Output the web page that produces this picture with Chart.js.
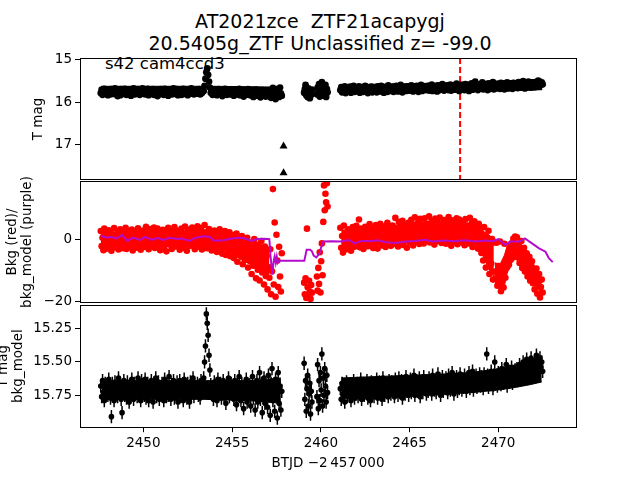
<!DOCTYPE html>
<html>
<head>
<meta charset="utf-8">
<script src="https://cdn.jsdelivr.net/npm/chart.js@4.4.1/dist/chart.umd.min.js"></script>
<style>
  body { margin: 0; width: 640px; height: 480px; background: #fff; position: relative; overflow: hidden; font-family: "DejaVu Sans", sans-serif; }
  canvas { position: absolute; }
  #title { position: absolute; left: 0; top: 10px; width: 640px; text-align: center; font-size: 19px; line-height: 22px; white-space: pre; color: #000; }
  #sector { position: absolute; left: 105px; top: 56px; font-size: 16.5px; line-height: 1; color: #000; }
</style>
</head>
<body>
<div id="title">AT2021zce  ZTF21acapygj
20.5405g_ZTF Unclassified z= -99.0</div>
<div id="sector">s42 cam4ccd3</div>
<canvas id="lc" width="555" height="144" style="left:31px;top:47px"></canvas>
<canvas id="bkg" width="581" height="144" style="left:5px;top:170px"></canvas>
<canvas id="diff" width="590" height="186" style="left:-4px;top:294px"></canvas>
<script>
// BTJD - 2457000 of each cadence (one row per day)
const btjd = [
  2447.6,2447.65,2447.7,2447.75,2447.8,2447.85,2447.9,2447.95,
  2448,2448.05,2448.1,2448.15,2448.2,2448.25,2448.3,2448.35,2448.4,2448.45,2448.5,2448.55,2448.6,2448.65,2448.7,2448.75,2448.8,2448.85,2448.9,2448.95,
  2449,2449.05,2449.1,2449.15,2449.2,2449.25,2449.3,2449.35,2449.4,2449.45,2449.5,2449.55,2449.6,2449.65,2449.7,2449.75,2449.8,2449.85,2449.9,2449.95,
  2450,2450.05,2450.1,2450.15,2450.2,2450.25,2450.3,2450.35,2450.4,2450.45,2450.5,2450.55,2450.6,2450.65,2450.7,2450.75,2450.8,2450.85,2450.9,2450.95,
  2451,2451.05,2451.1,2451.15,2451.2,2451.25,2451.3,2451.35,2451.4,2451.45,2451.5,2451.55,2451.6,2451.65,2451.7,2451.75,2451.8,2451.85,2451.9,2451.95,
  2452,2452.05,2452.1,2452.15,2452.2,2452.25,2452.3,2452.35,2452.4,2452.45,2452.5,2452.55,2452.6,2452.65,2452.7,2452.75,2452.8,2452.85,2452.9,2452.95,
  2453,2453.05,2453.1,2453.15,2453.2,2453.25,2453.3,2453.35,2453.4,2453.45,2453.5,2453.55,2453.6,2453.65,2453.7,2453.75,2453.8,2453.85,2453.9,2453.95,
  2454,2454.05,2454.1,2454.15,2454.2,2454.25,2454.3,2454.35,2454.4,2454.45,2454.5,2454.55,2454.6,2454.65,2454.7,2454.75,2454.8,2454.85,2454.9,2454.95,
  2455,2455.05,2455.1,2455.15,2455.2,2455.25,2455.3,2455.35,2455.4,2455.45,2455.5,2455.55,2455.6,2455.65,2455.7,2455.75,2455.8,2455.85,2455.9,2455.95,
  2456,2456.05,2456.1,2456.15,2456.2,2456.25,2456.3,2456.35,2456.4,2456.45,2456.5,2456.55,2456.6,2456.65,2456.7,2456.75,2456.8,2456.85,2456.9,2456.95,
  2457,2457.05,2457.1,2457.15,2457.2,2457.25,2457.3,2457.35,2457.4,2457.45,2457.5,2457.55,2457.6,2457.65,2457.7,2457.75,2457.8,
  2459.06,2459.1,2459.14,2459.18,2459.22,2459.26,2459.3,2459.34,2459.38,2459.42,2459.46,2459.5,
  2459.78,2459.82,2459.86,2459.9,2459.94,2459.98,2460.02,2460.06,2460.1,2460.14,2460.18,2460.22,2460.26,2460.3,2460.34,2460.38,
  2461.1,2461.15,2461.2,2461.25,2461.3,2461.35,2461.4,2461.45,2461.5,2461.55,2461.6,2461.65,2461.7,2461.75,2461.8,2461.85,2461.9,2461.95,
  2462,2462.05,2462.1,2462.15,2462.2,2462.25,2462.3,2462.35,2462.4,2462.45,2462.5,2462.55,2462.6,2462.65,2462.7,2462.75,2462.8,2462.85,2462.9,2462.95,
  2463,2463.05,2463.1,2463.15,2463.2,2463.25,2463.3,2463.35,2463.4,2463.45,2463.5,2463.55,2463.6,2463.65,2463.7,2463.75,2463.8,2463.85,2463.9,2463.95,
  2464,2464.05,2464.1,2464.15,2464.2,2464.25,2464.3,2464.35,2464.4,2464.45,2464.5,2464.55,2464.6,2464.65,2464.7,2464.75,2464.8,2464.85,2464.9,2464.95,
  2465,2465.05,2465.1,2465.15,2465.2,2465.25,2465.3,2465.35,2465.4,2465.45,2465.5,2465.55,2465.6,2465.65,2465.7,2465.75,2465.8,2465.85,2465.9,2465.95,
  2466,2466.05,2466.1,2466.15,2466.2,2466.25,2466.3,2466.35,2466.4,2466.45,2466.5,2466.55,2466.6,2466.65,2466.7,2466.75,2466.8,2466.85,2466.9,2466.95,
  2467,2467.05,2467.1,2467.15,2467.2,2467.25,2467.3,2467.35,2467.4,2467.45,2467.5,2467.55,2467.6,2467.65,2467.7,2467.75,2467.8,2467.85,2467.9,2467.95,
  2468,2468.05,2468.1,2468.15,2468.2,2468.25,2468.3,2468.35,2468.4,2468.45,2468.5,2468.55,2468.6,2468.65,2468.7,2468.75,2468.8,2468.85,2468.9,2468.95,
  2469,2469.05,2469.1,2469.15,2469.2,2469.25,2469.3,2469.35,2469.4,2469.45,2469.5,2469.55,2469.6,2469.65,2469.7,2469.75,2469.8,2469.85,2469.9,2469.95,
  2470,2470.05,2470.1,2470.15,2470.2,2470.25,2470.3,2470.35,2470.4,2470.45,2470.5,2470.55,2470.6,2470.65,2470.7,2470.75,2470.8,2470.85,2470.9,2470.95,
  2471,2471.05,2471.1,2471.15,2471.2,2471.25,2471.3,2471.35,2471.4,2471.45,2471.5,2471.55,2471.6,2471.65,2471.7,2471.75,2471.8,2471.85,2471.9,2471.95,
  2472,2472.05,2472.1,2472.15,2472.2,2472.25,2472.3,2472.35,2472.4,2472.45,2472.5
];

// top panel: T mag
const tMag = [
  15.79,15.71,15.83,15.75,15.69,15.80,15.76,15.72,
  15.84,15.73,15.77,15.82,15.70,15.78,15.74,15.81,15.68,15.79,15.75,15.86,15.72,15.78,15.84,15.70,15.77,15.74,15.81,15.69,
  15.79,15.83,15.73,15.76,15.80,15.71,15.85,15.75,15.78,15.68,15.82,15.74,15.81,15.75,15.70,15.79,15.83,15.72,15.77,15.68,
  15.80,15.76,15.82,15.73,15.78,15.69,15.84,15.74,15.71,15.79,15.77,15.70,15.83,15.75,15.80,15.72,15.86,15.76,15.73,15.81,
  15.70,15.78,15.74,15.83,15.69,15.80,15.76,15.72,15.85,15.75,15.79,15.71,15.82,15.77,15.68,15.81,15.74,15.78,15.70,15.84,
  15.75,15.79,15.72,15.83,15.77,15.69,15.81,15.74,15.78,15.71,15.84,15.76,15.80,15.73,15.68,15.79,15.75,15.82,15.72,15.77,
  15.80,15.73,15.77,15.70,15.82,15.75,15.79,15.71,15.74,15.62,15.45,15.30,15.21,15.36,15.52,15.66,15.78,15.72,15.83,15.76,
  15.71,15.79,15.74,15.84,15.76,15.70,15.81,15.77,15.73,15.86,15.75,15.80,15.69,15.78,15.83,15.72,15.79,15.75,15.82,15.74,
  15.78,15.71,15.85,15.76,15.80,15.73,15.82,15.77,15.69,15.84,15.75,15.79,15.72,15.87,15.76,15.81,15.74,15.78,15.70,15.83,
  15.77,15.84,15.73,15.80,15.88,15.75,15.79,15.71,15.85,15.77,15.82,15.74,15.89,15.78,15.72,15.84,15.80,15.76,15.87,15.73,
  15.81,15.76,15.86,15.72,15.90,15.79,15.67,15.84,15.75,15.93,15.70,15.82,15.77,15.88,15.66,15.80,15.85,
  15.78,15.70,15.60,15.84,15.73,15.88,15.68,15.80,15.91,15.75,15.83,15.71,
  15.82,15.66,15.76,15.58,15.87,15.70,15.79,15.53,15.85,15.64,15.74,15.81,15.60,15.88,15.69,15.77,
  15.72,15.65,15.77,15.68,15.74,15.63,15.79,15.70,15.66,15.75,15.71,15.64,15.78,15.69,15.73,15.62,15.76,15.70,
  15.67,15.74,15.70,15.63,15.78,15.69,15.72,15.65,15.76,15.71,15.62,15.75,15.68,15.79,15.66,15.73,15.70,15.64,15.77,15.69,
  15.74,15.66,15.71,15.77,15.63,15.70,15.75,15.68,15.62,15.73,15.69,15.78,15.65,15.72,15.67,15.76,15.61,15.70,15.74,15.66,
  15.71,15.64,15.76,15.69,15.73,15.62,15.68,15.75,15.66,15.72,15.60,15.70,15.77,15.65,15.71,15.67,15.74,15.63,15.69,15.73,
  15.66,15.72,15.61,15.70,15.75,15.64,15.68,15.73,15.62,15.69,15.76,15.65,15.71,15.60,15.74,15.67,15.70,15.63,15.72,15.66,
  15.69,15.62,15.73,15.66,15.70,15.59,15.74,15.67,15.63,15.71,15.65,15.75,15.61,15.68,15.72,15.64,15.70,15.58,15.67,15.73,
  15.64,15.70,15.66,15.61,15.72,15.68,15.59,15.73,15.65,15.69,15.62,15.71,15.67,15.57,15.70,15.64,15.74,15.63,15.68,15.60,
  15.69,15.62,15.72,15.58,15.66,15.70,15.63,15.74,15.60,15.67,15.56,15.71,15.64,15.68,15.52,15.66,15.61,15.72,15.65,15.59,
  15.68,15.62,15.54,15.70,15.64,15.58,15.67,15.61,15.72,15.56,15.65,15.69,15.60,15.66,15.53,15.70,15.63,15.58,15.67,15.61,
  15.65,15.59,15.69,15.55,15.63,15.67,15.57,15.70,15.61,15.64,15.54,15.68,15.60,15.66,15.58,15.62,15.69,15.55,15.64,15.60,
  15.63,15.57,15.67,15.53,15.61,15.66,15.58,15.64,15.51,15.62,15.68,15.56,15.60,15.65,15.52,15.63,15.58,15.66,15.54,15.61,
  15.59,15.65,15.53,15.62,15.57,15.50,15.63,15.56,15.60,15.54,15.58
];

// middle panel: background flux (red)
const bkg = [
  2.8,-2.1,0.6,-3.4,3.6,-0.8,1.9,-2.9,
  0.2,3.1,-1.6,2.4,-3.6,1.1,-0.4,3.8,-2.5,0.9,-1.2,2.6,-3.2,1.5,3.4,-1.9,0.3,-2.8,2.1,-0.6,
  3.9,-3.0,1.2,-1.4,2.9,-2.3,0.7,3.3,-3.5,1.8,-0.9,2.5,-2.6,0.4,3.7,-1.7,1.4,-3.3,2.2,-0.2,
  3.0,-2.4,1.0,4.2,-1.5,2.7,-3.1,0.8,3.5,-2.0,1.6,-0.7,4.0,-2.7,2.3,0.1,3.6,-1.8,2.0,-3.4,
  1.3,-0.5,3.2,-2.9,0.6,2.4,-3.8,1.1,3.9,-1.3,0.2,2.8,-3.0,1.7,-0.8,4.1,-2.2,0.9,3.0,-1.6,
  2.2,-3.3,0.5,3.6,-1.1,1.9,-2.7,4.3,0.0,-3.6,2.6,-0.3,3.3,-2.0,1.4,4.0,-1.4,0.7,-3.1,2.9,
  0.3,4.4,-2.3,1.6,-0.9,3.8,-3.2,2.1,0.8,4.8,-1.7,2.5,-2.8,0.4,3.5,-1.0,1.8,-3.5,2.7,-0.4,
  3.0,-2.5,0.9,-4.0,2.2,-1.2,3.4,-3.1,0.3,-4.6,1.7,-0.6,2.8,-5.0,-1.8,1.2,-3.7,2.4,-5.4,0.1,
  -2.6,1.5,-6.0,-0.8,-3.9,2.0,-7.2,-1.6,0.9,-5.1,-2.9,1.2,-8.0,-4.2,-0.3,-6.6,-2.1,0.6,-9.1,-3.6,
  -0.9,-6.9,-11.2,-2.7,-8.5,0.2,-4.8,-12.6,-1.6,-9.8,-6.0,-13.3,-3.4,-0.4,-10.7,-7.6,-14.6,-2.2,-11.8,-5.3,
  -16.2,-8.9,-12.4,-3.1,-17.8,-10.3,16.5,-14.6,5.6,-18.6,1.6,-6.8,-15.4,-2.3,-12.0,-16.9,-4.4,
  -14.0,-17.8,-12.6,-19.0,3.6,-15.5,-18.2,-13.4,-16.9,-19.3,-14.8,-17.3,
  -12.0,-16.6,-9.2,-14.4,-4.1,-17.2,-7.0,-1.2,-11.6,5.8,17.7,9.6,15.0,12.2,18.4,10.8,
  3.9,-2.6,1.2,-4.2,4.6,-0.9,2.3,-3.1,0.5,3.4,-1.8,2.7,-3.6,1.0,4.1,-0.4,-2.3,2.0,
  4.5,-1.2,0.8,6.6,-2.5,3.6,-0.1,2.6,-3.0,1.5,4.2,-0.8,3.0,-2.1,1.9,5.1,-1.4,3.8,0.4,-2.7,
  2.4,-1.6,4.8,0.9,-2.9,3.5,-0.3,5.2,1.6,-1.9,3.1,-0.6,4.4,-2.4,2.0,5.5,-1.1,1.3,3.9,-2.0,
  0.7,4.6,-1.4,3.0,7.1,-0.2,2.3,-2.2,5.8,1.1,-1.0,3.7,6.2,-1.7,2.6,4.9,0.0,-2.6,3.3,5.6,
  -0.8,2.9,6.5,0.4,-1.9,4.3,7.3,1.7,-0.5,5.4,2.2,-1.4,6.8,3.5,0.6,4.7,-1.2,7.0,2.5,-0.2,
  5.0,1.2,7.6,-0.9,3.8,6.1,0.3,4.4,-1.6,6.9,2.7,-0.4,5.5,1.5,7.2,3.1,-1.1,4.9,0.8,6.4,
  2.0,-1.3,5.7,3.4,7.4,0.1,4.5,-2.0,6.3,1.9,-0.7,5.1,2.8,7.0,-1.5,3.9,6.6,0.6,4.2,-0.9,
  5.9,2.3,-1.8,6.7,1.0,4.6,-1.2,3.2,7.1,0.4,5.3,-2.4,2.6,6.0,-0.6,4.0,1.4,-2.9,5.2,0.9,
  3.6,-4.3,1.8,-6.8,4.1,-2.0,-9.1,0.7,-5.4,2.9,-11.2,-1.4,-7.8,0.2,-13.0,-0.9,-10.4,-12.6,-1.0,-15.0,
  -8.6,-13.8,-0.6,-16.8,-11.0,-9.2,-15.6,-1.3,-12.4,-7.6,-9.0,-5.0,-8.2,-3.0,-6.4,-1.2,-5.6,0.4,-3.4,1.0,
  -2.2,0.8,-5.8,-1.4,-7.6,-3.9,-0.4,-9.2,-5.0,-2.6,-10.4,-6.6,-4.4,-12.0,-8.2,-5.6,-13.4,-9.8,-7.0,-14.2,
  -10.6,-16.2,-12.8,-9.4,-17.6,-14.0,-11.2,-18.8,-15.4,-13.0,-17.2
];

// bottom panel: T mag with the background model
const tMagModel = [
  15.68,15.76,15.64,15.73,15.79,15.66,15.74,15.70,
  15.75,15.63,15.70,15.77,15.91,15.66,15.72,15.79,15.65,15.74,15.69,15.76,15.62,15.73,15.68,15.78,15.88,15.71,15.64,15.75,
  15.70,15.77,15.65,15.72,15.80,15.67,15.74,15.63,15.71,15.78,15.66,15.73,15.69,15.76,15.62,15.75,15.70,15.79,15.64,15.72,
  15.68,15.75,15.63,15.77,15.71,15.66,15.79,15.69,15.74,15.64,15.72,15.80,15.67,15.73,15.62,15.76,15.70,15.65,15.78,15.71,
  15.74,15.66,15.72,15.79,15.63,15.70,15.76,15.68,15.75,15.61,15.73,15.78,15.67,15.71,15.64,15.77,15.69,15.74,15.65,15.80,
  15.70,15.64,15.76,15.71,15.67,15.79,15.63,15.73,15.69,15.77,15.66,15.72,15.80,15.65,15.74,15.70,15.62,15.76,15.68,15.73,
  15.71,15.66,15.75,15.69,15.77,15.64,15.73,15.68,15.62,15.50,15.38,15.14,15.21,15.30,15.45,15.56,15.67,15.74,15.70,15.78,
  15.65,15.72,15.68,15.79,15.63,15.74,15.70,15.66,15.77,15.71,15.64,15.75,15.69,15.81,15.67,15.73,15.62,15.76,15.70,15.66,
  15.74,15.69,15.78,15.64,15.72,15.82,15.67,15.75,15.61,15.71,15.79,15.66,15.73,15.85,15.68,15.76,15.63,15.80,15.70,15.74,
  15.67,15.83,15.72,15.61,15.77,15.69,15.86,15.74,15.64,15.80,15.70,15.58,15.78,15.66,15.88,15.73,15.62,15.81,15.69,15.76,
  15.84,15.60,15.75,15.90,15.66,15.55,15.79,15.70,15.87,15.63,15.74,15.92,15.58,15.81,15.68,15.86,15.72,
  15.51,15.78,15.64,15.87,15.70,15.60,15.83,15.74,15.66,15.89,15.72,15.80,
  15.76,15.52,15.85,15.64,15.79,15.58,15.71,15.44,15.83,15.62,15.75,15.55,15.68,15.80,15.60,15.73,
  15.70,15.78,15.66,15.74,15.69,15.80,15.72,15.65,15.76,15.71,15.67,15.75,15.79,15.68,15.73,15.64,15.77,15.70,
  15.74,15.66,15.76,15.69,15.72,15.63,15.78,15.70,15.66,15.75,15.68,15.73,15.64,15.77,15.71,15.67,15.79,15.65,15.72,15.69,
  15.76,15.68,15.72,15.63,15.77,15.70,15.65,15.74,15.69,15.78,15.62,15.71,15.75,15.66,15.73,15.68,15.76,15.64,15.70,15.74,
  15.65,15.72,15.68,15.76,15.63,15.71,15.67,15.75,15.62,15.73,15.69,15.64,15.77,15.70,15.66,15.74,15.61,15.72,15.68,15.75,
  15.69,15.63,15.73,15.66,15.71,15.60,15.75,15.67,15.64,15.72,15.68,15.62,15.76,15.65,15.70,15.73,15.61,15.69,15.66,15.74,
  15.67,15.72,15.62,15.70,15.65,15.74,15.60,15.68,15.71,15.64,15.73,15.66,15.59,15.70,15.63,15.75,15.67,15.61,15.72,15.65,
  15.70,15.62,15.68,15.73,15.60,15.66,15.71,15.64,15.58,15.69,15.74,15.63,15.67,15.61,15.72,15.65,15.70,15.59,15.66,15.71,
  15.63,15.69,15.60,15.67,15.72,15.62,15.66,15.58,15.70,15.64,15.68,15.57,15.71,15.63,15.66,15.60,15.69,15.62,15.67,15.59,
  15.68,15.61,15.65,15.70,15.59,15.66,15.63,15.44,15.60,15.69,15.62,15.67,15.57,15.64,15.70,15.60,15.50,15.65,15.61,15.68,
  15.58,15.64,15.60,15.67,15.55,15.62,15.66,15.59,15.63,15.52,15.68,15.60,15.57,15.65,15.61,15.54,15.66,15.58,15.63,15.56,
  15.61,15.55,15.64,15.58,15.52,15.62,15.57,15.60,15.50,15.63,15.55,15.59,15.48,15.61,15.56,15.53,15.60,15.47,15.57,15.52,
  15.58,15.49,15.55,15.45,15.60,15.52,15.56,15.47,15.54,15.50,15.57
];
const tMagErr = 0.03;
const tMagModelErr = 0.05;

// extent of the densest part of each cloud (null = gap in the coverage)
const magBandTime = [2447.62,2450.0,2453.35, 2453.4, 2453.8,2456.0,2457.78, 2459.0, 2461.12,2464.0,2467.0,2469.0,2471.0,2472.48];
const magBandBright = [15.63,15.63,15.63, null, 15.63,15.64,15.65, null, 15.59,15.58,15.55,15.52,15.49,15.46];
const magBandFaint = [15.87,15.87,15.87, null, 15.87,15.88,15.89, null, 15.80,15.79,15.77,15.75,15.73,15.71];

const bkgBandTime = [
  2447.6,2449.0,2450.5,2452.0,2453.5,2454.5,2455.0,2455.5,2456.0,2456.5,2457.0,2457.1,
  2459.0,
  2461.15,2462.0,2463.0,2464.0,2465.0,2466.0,2467.0,2468.0,2468.8,2469.2,2469.5,2469.75,
  2469.77,
  2469.8,2470.1,2470.35,2470.5,2470.7,2471.0,2471.3,2471.6,2471.9,2472.2,2472.45
];
const bkgBandHi = [
  2.5,2.5,2.8,2.8,3.0,2.0,1.5,0.8,-0.5,-1.0,-3.0,-3.0,
  null,
  3.0,3.5,3.8,4.5,5.5,6.0,6.0,5.5,5.0,2.5,1.5,0.0,
  null,
  -7.5,-8.0,-5.0,-2.0,-0.5,0.0,-1.5,-4.0,-7.0,-10.0,-12.5
];
const bkgBandLo = [
  -2.5,-2.5,-2.4,-2.4,-2.5,-3.5,-4.5,-6.5,-8.0,-10.0,-12.0,-12.0,
  null,
  -2.5,-2.0,-1.8,-1.5,-1.0,-0.8,-1.0,-1.5,-2.0,-6.0,-10.0,-12.0,
  null,
  -15.0,-16.0,-15.0,-11.0,-8.0,-6.0,-8.5,-11.0,-13.5,-16.0,-17.5
];

const modBandTime = [2447.65,2453.35,2456.0,2457.75, 2459.0, 2461.15,2463.0,2465.0,2467.0,2468.5,2470.0,2471.0,2471.8,2472.45];
const modBandBright = [15.64,15.64,15.64,15.62, null, 15.62,15.61,15.60,15.59,15.58,15.55,15.52,15.48,15.46];
const modBandFaint = [15.78,15.78,15.79,15.81, null, 15.77,15.76,15.75,15.74,15.73,15.71,15.69,15.67,15.65];

// background model (purple)
const modelTime = [
  2447.6,2447.9,2448.2,2448.5,2448.8,2449.1,2449.4,2449.8,2450.1,2450.5,
  2450.8,2451.1,2451.5,2451.9,2452.2,2452.6,2452.9,2453.4,2453.75,2453.97,
  2454.5,2455.06,2455.5,2455.8,2456.1,2456.4,2456.8,2457.1,2457.16,2457.27,
  2457.34,2457.4,2457.46,2457.52,2457.58,2457.64,2457.7,2459.07,2459.2,2459.4,
  2459.5,2459.6,2459.75,2459.93,2460.0,2460.15,2460.6,2461.1,2461.6,2461.9,
  2462.3,2462.9,2463.2,2463.7,2464.2,2464.8,2465.3,2465.9,2466.3,2466.9,
  2467.5,2468.1,2468.7,2469.3,2469.7,2470.0,2470.4,2470.7,2471.2,2471.5,
  2471.9,2472.3,2472.66,2472.85,2473.07
];
const bkgModel = [
  1.2,0.7,0.9,0.4,1.6,-0.4,0.7,-0.1,0.9,-0.1,
  0.6,-0.1,0.6,0.2,0.4,-0.4,0.6,1.1,0.9,-0.3,
  -0.2,0.5,0.6,0.2,-0.4,0.2,0.3,0.2,-5.0,-11.4,
  -7.1,-5.5,-7.5,-5.5,-7.5,-6.9,-6.9,-6.9,-3.3,-3.3,
  -3.8,-5.2,-5.8,-4.4,-2.8,-0.6,-0.5,-0.6,-0.1,-1.2,
  -0.4,-0.4,-0.2,-0.8,-1.1,-0.6,-0.4,0.0,-0.6,-0.3,
  -0.5,-0.2,-0.6,-0.3,-0.5,0.2,-1.7,-0.6,-0.6,0.4,
  -1.2,-2.8,-3.9,-6.0,-7.3
];

// ZTF points shown as triangles in the top panel
const ztfTime = [2457.9, 2457.9];
const ztfMag = [17.04, 17.67];
const markerTime = 2467.85;

const xMin = 2446.43, xMax = 2474.38;
const xTicks = [2450, 2455, 2460, 2465, 2470];
const magMin = 14.967, magMax = 17.833, magTicks = [15, 16, 17];
const bkgMin = -20.6, bkgMax = 19.1, bkgTicks = [-20, 0];
const modMin = 15.074, modMax = 15.989, modTicks = [15.25, 15.5, 15.75];

Chart.defaults.font.family = '"DejaVu Sans", sans-serif';
Chart.defaults.font.size = 13.5;
Chart.defaults.color = '#000';
Chart.defaults.animation = false;

const points = (xs, ys) => xs.map((x, i) => ({x: x, y: ys[i]}));

// filled region between two curves, drawn under the points
const band = (time, a, b, color) => [
  { data: points(time, a), showLine: true, pointRadius: 0, borderWidth: 1, borderColor: color,
    backgroundColor: color, fill: '+1', order: 3 },
  { data: points(time, b), showLine: true, pointRadius: 0, borderWidth: 1, borderColor: color,
    fill: false, order: 4 }
];

const frame = {
  id: 'frame',
  afterDatasetsDraw(chart) {
    const {ctx, chartArea: a} = chart;
    const l = Math.floor(a.left) + 0.5, t = Math.floor(a.top) + 0.5;
    const r = Math.floor(a.right) + 0.5, b = Math.floor(a.bottom) + 0.5;
    ctx.save();
    ctx.strokeStyle = '#000';
    ctx.lineWidth = 1;
    ctx.strokeRect(l, t, r - l, b - t);
    ctx.restore();
  }
};

const errorBars = {
  id: 'errorBars',
  beforeDatasetsDraw(chart) {
    const {ctx, chartArea: a, scales: {x, y}} = chart;
    ctx.save();
    ctx.beginPath();
    ctx.rect(a.left, a.top, a.width, a.height);
    ctx.clip();
    chart.data.datasets.forEach(ds => {
      if (!ds.yErr) return;
      ctx.strokeStyle = ds.backgroundColor;
      ctx.lineWidth = 1.5;
      ctx.beginPath();
      ds.data.forEach(p => {
        const px = x.getPixelForValue(p.x);
        ctx.moveTo(px, y.getPixelForValue(p.y - ds.yErr));
        ctx.lineTo(px, y.getPixelForValue(p.y + ds.yErr));
      });
      ctx.stroke();
    });
    ctx.restore();
  }
};

function makePanel(id, cfg) {
  return new Chart(document.getElementById(id), {
    type: 'scatter',
    data: { datasets: cfg.datasets },
    options: {
      responsive: false,
      devicePixelRatio: 1,
      layout: { padding: cfg.padding },
      plugins: { legend: { display: false }, tooltip: { enabled: false } },
      scales: {
        x: {
          type: 'linear',
          min: xMin,
          max: xMax,
          display: cfg.showX,
          afterBuildTicks: s => { s.ticks = xTicks.map(v => ({value: v})); },
          afterFit: s => { if (cfg.xHeight) s.height = cfg.xHeight; },
          grid: { drawOnChartArea: false, color: '#000', tickLength: 5 },
          border: { display: false },
          ticks: { padding: 3, maxRotation: 0, callback: v => String(v) },
          title: { display: true, text: 'BTJD \u22122\u2009457\u2009000', padding: { top: 0, bottom: 8 } }
        },
        y: {
          type: 'linear',
          min: cfg.yMin,
          max: cfg.yMax,
          reverse: cfg.reverse,
          afterBuildTicks: s => { s.ticks = cfg.yTicks.map(v => ({value: v})); },
          afterFit: s => { s.width = cfg.yWidth; },
          grid: { drawOnChartArea: false, color: '#000', tickLength: 5 },
          border: { display: false },
          ticks: { padding: 3, callback: cfg.yFormat },
          title: { display: true, text: cfg.yTitle, padding: 0, font: { lineHeight: 1.1 } }
        }
      }
    },
    plugins: [errorBars, frame]
  });
}

makePanel('lc', {
  padding: { left: 0, right: 10, top: 10.6, bottom: 10.2 },
  showX: false,
  yMin: magMin, yMax: magMax, reverse: true, yTicks: magTicks, yWidth: 49,
  yFormat: v => String(v),
  yTitle: 'T mag',
  datasets: [
    { data: points(ztfTime, ztfMag), pointStyle: 'triangle', pointRadius: 4.6, pointBorderWidth: 0,
      backgroundColor: '#000', borderColor: '#000', order: 0 },
    { data: points(btjd, tMag), yErr: tMagErr, pointRadius: 3.4, pointBorderWidth: 0,
      backgroundColor: '#000', borderColor: '#000', order: 1 },
    { data: [{x: markerTime, y: magMin}, {x: markerTime, y: magMax}], showLine: true, pointRadius: 0,
      borderColor: '#ff0000', borderWidth: 2, borderDash: [6, 3], order: 5 },
    ...band(magBandTime, magBandBright, magBandFaint, '#000')
  ]
});

makePanel('bkg', {
  padding: { left: 0, right: 10, top: 10.8, bottom: 10 },
  showX: false,
  yMin: bkgMin, yMax: bkgMax, reverse: false, yTicks: bkgTicks, yWidth: 75,
  yFormat: v => String(v).replace('-', '\u2212'),
  yTitle: ['Bkg (red)/', 'bkg_model (purple)'],
  datasets: [
    { data: points(modelTime, bkgModel), showLine: true, pointRadius: 0,
      borderColor: '#b40ccc', borderWidth: 2, order: 0 },
    { data: points(btjd, bkg), pointRadius: 3.3, pointBorderWidth: 0,
      backgroundColor: '#ff0000', borderColor: '#ff0000', order: 1 },
    ...band(bkgBandTime, bkgBandHi, bkgBandLo, '#ff0000')
  ]
});

makePanel('diff', {
  padding: { left: 0, right: 10, top: 10, bottom: 0 },
  showX: true, xHeight: 52.8,
  yMin: modMin, yMax: modMax, reverse: true, yTicks: modTicks, yWidth: 84,
  yFormat: v => v.toFixed(2),
  yTitle: ['T mag', 'bkg_model'],
  datasets: [
    { data: points(btjd, tMagModel), yErr: tMagModelErr, pointRadius: 2.8, pointBorderWidth: 0,
      backgroundColor: '#000', borderColor: '#000', order: 1 },
    ...band(modBandTime, modBandBright, modBandFaint, '#000')
  ]
});
</script>
</body>
</html>
